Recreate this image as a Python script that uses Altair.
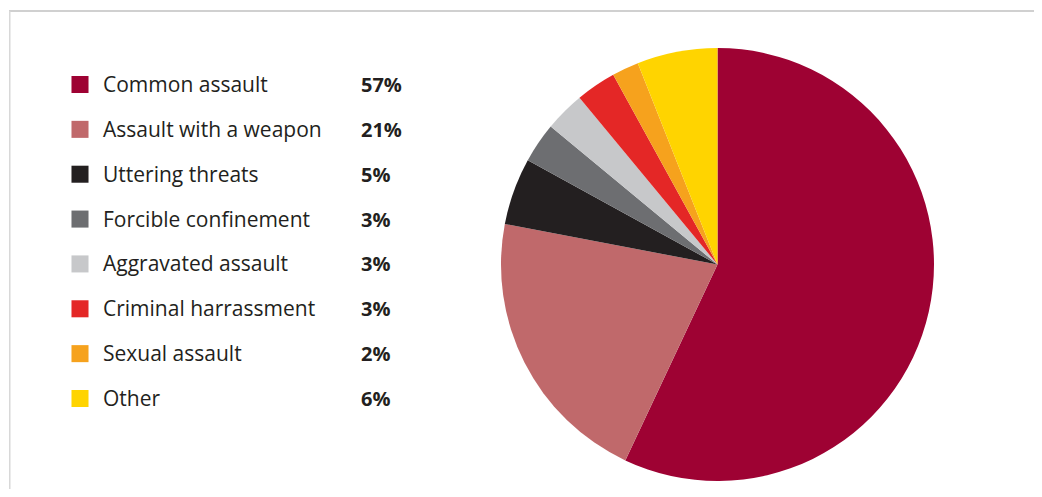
import altair as alt
import pandas as pd

categories = ["Common assault", "Assault with a weapon", "Uttering threats",
              "Forcible confinement", "Aggravated assault", "Criminal harrassment",
              "Sexual assault", "Other"]
values = [57, 21, 5, 3, 3, 3, 2, 6]
labels = ["57%", "21%", "5%", "3%", "3%", "3%", "2%", "6%"]
colors = ["#9e0233", "#c0696b", "#231f20", "#6d6e71", "#c7c8ca", "#e42726", "#f6a21d", "#ffd400"]

df = pd.DataFrame({"cat": categories, "val": values, "lab": labels,
                   "order": list(range(len(categories)))})

color_scale = alt.Scale(domain=categories, range=colors)
y_scale = alt.Scale(type="point", domain=categories, range=[76.5, 390.5], padding=0)

base = alt.Chart(df)

pie = base.mark_arc(radius=216.5, stroke=None).encode(
    theta=alt.Theta("val:Q", stack=True),
    order=alt.Order("order:Q"),
    color=alt.Color("cat:N", scale=color_scale, legend=None),
    x=alt.value(708.5), y=alt.value(256.5),
)

squares = base.mark_square(size=290, opacity=1).encode(
    x=alt.value(71),
    y=alt.Y("cat:N", scale=y_scale, axis=None, sort=None),
    color=alt.Color("cat:N", scale=color_scale, legend=None),
)

names = base.mark_text(align="left", baseline="middle", font="Open Sans", fontSize=21,
                       dy=1.5, color="#231f20").encode(
    x=alt.value(94),
    y=alt.Y("cat:N", scale=y_scale, axis=None, sort=None),
    text="cat:N",
)

pcts = base.mark_text(align="left", baseline="middle", font="Open Sans", fontSize=20,
                      dy=1.5, fontWeight="bold", color="#231f20").encode(
    x=alt.value(352),
    y=alt.Y("cat:N", scale=y_scale, axis=None, sort=None),
    text="lab:N",
)

top_line = alt.Chart(pd.DataFrame({"a": [0]})).mark_rule(color="#d0d0d0", strokeWidth=2).encode(
    x=alt.value(0), x2=alt.value(1026), y=alt.value(3))
left_line = alt.Chart(pd.DataFrame({"a": [0]})).mark_rule(color="#d8d8d8", strokeWidth=1.5).encode(
    x=alt.value(0.75), y=alt.value(3), y2=alt.value(481))

chart = alt.layer(top_line, left_line, pie, squares, names, pcts).properties(
    width=1026, height=481,
    autosize=alt.AutoSizeParams(type="fit", contains="padding"),
    padding=0,
).configure_view(stroke=None)

chart.save("out.html", embed_options={"renderer": "svg", "actions": False})
